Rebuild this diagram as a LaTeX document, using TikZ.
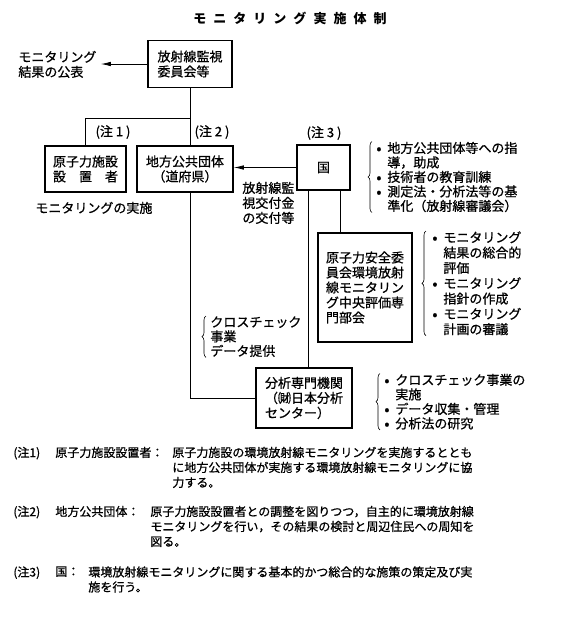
\documentclass[tikz,border=0pt]{standalone}
\usepackage{fontspec}
\setmainfont[FakeBold=0.8]{Noto Sans CJK JP}
\newfontfamily\titlefont[LetterSpace=54]{Noto Sans CJK JP}
\usetikzlibrary{arrows.meta,decorations.pathreplacing}
\newcommand\itm{\makebox[11pt][l]{\smash{\raisebox{-0.8pt}{\fontsize{15}{15}\selectfont\textbullet}}}}
\newcommand\cnt{\hspace*{11pt}}

\begin{document}
\begin{tikzpicture}[x=1pt, y=-1pt, line width=0.8pt,
  box/.style={draw, line width=1.5pt, align=center, inner sep=0pt, font=\fontsize{13}{15}\selectfont},
  txt/.style={anchor=north west, align=left, inner sep=0pt, font=\fontsize{13}{15}\selectfont},
  note/.style={anchor=north west, align=left, inner sep=0pt, font=\fontsize{12}{15}\selectfont},
  brc/.style={decorate, decoration={brace, amplitude=4pt}, line width=0.6pt},
  arr/.style={-{Latex[length=10pt, width=4.5pt]}}]
  \useasboundingbox (0,0) rectangle (581,633);
  \node[font=\titlefont\bfseries\fontsize{13}{15}\selectfont] (title) at (290,18) {モニタリング実施体制};

  % boxes
  \node[box, align=left, minimum width=84pt, minimum height=47pt] (kanshi) at (190,64) {放射線監視\\委員会等};
  \node[box, minimum width=81pt, minimum height=46pt] (setchi) at (85.5,169) {原子力施設\\設\hspace{1em}置\hspace{1em}者};
  \node[box, minimum width=96pt, minimum height=46pt] (chiho) at (185,169) {地方公共団体\\（道府県）};
  \node[box, minimum width=53pt, minimum height=45pt] (kuni) at (323.5,167.5) {国};
  \node[box, align=left, minimum width=94pt, minimum height=109pt] (anzen) at (365,287.5) {原子力安全委\\員会環境放射\\線モニタリン\\グ中央評価専\\門部会};
  \node[box, align=left, minimum width=96pt, minimum height=60pt] (bunseki) at (304,398) {分析専門機関\\（㈶日本分析\\センター）};

  % labels
  \node[txt] (koho) at (18,50.5) {モニタリング\\結果の公表};
  \node[font=\fontsize{13}{15}\selectfont] (chu1) at (113,132) {(注 1 )};
  \node[font=\fontsize{13}{15}\selectfont] (chu2) at (212,132) {(注 2 )};
  \node[font=\fontsize{13}{15}\selectfont] (chu3) at (324,133) {(注 3 )};
  \node[txt] (jisshi) at (35,201.5) {モニタリングの実施};
  \node[txt] (kofu) at (242,181.5) {放射線監\\視交付金\\の交付等};
  \node[txt, font=\fontsize{13}{14.5}\selectfont] (kunilist) at (376,141.5) {\itm 地方公共団体等への指\\\cnt 導，助成\\\itm 技術者の教育訓練\\\itm 測定法・分析法等の基\\\cnt 準化（放射線審議会）};
  \node[txt, font=\fontsize{13}{15.3}\selectfont] (anzenlist) at (432,231) {\itm モニタリング\\\cnt 結果の総合的\\\cnt 評価\\\itm モニタリング\\\cnt 指針の作成\\\itm モニタリング\\\cnt 計画の審議};
  \node[txt, font=\fontsize{13}{14.5}\selectfont] (cross) at (210,316) {クロスチェック\\事業\\データ提供};
  \node[txt, font=\fontsize{13}{14.5}\selectfont] (bunlist) at (384,373.5) {\itm クロスチェック事業の\\\cnt 実施\\\itm データ収集・管理\\\itm 分析法の研究};

  % connectors
  \coordinate (bunki) at ([yshift=-30pt]kanshi.south);
  \draw (kanshi.south) -- (kanshi.south |- chiho.north);
  \draw (bunki) -| (setchi.north);
  \draw[arr] (kanshi.west) -- ([xshift=4pt]koho.east |- kanshi.west);
  \draw[arr] (kuni.west) -- (kuni.west -| chiho.east);
  \draw ([xshift=16.5pt]kuni.south) -- ([xshift=16.5pt]kuni.south |- anzen.north);
  \draw ([xshift=-15.5pt]kuni.south) -- ([xshift=-15.5pt]kuni.south |- bunseki.north);
  \draw (kanshi.south |- chiho.south) |- (bunseki.west);

  % braces
  \draw[brc] ([xshift=-4pt]kunilist.south west) -- ([xshift=-4pt]kunilist.north west);
  \draw[brc] ([xshift=-6pt]anzenlist.south west) -- ([xshift=-6pt]anzenlist.north west);
  \draw[brc] ([xshift=-4pt]cross.south west) -- ([xshift=-4pt]cross.north west);
  \draw[brc] ([xshift=-4pt]bunlist.south west) -- ([xshift=-4pt]bunlist.north west);

  % notes
  \node[note] (n1) at (13,446.5) {(注1)};
  \node[note] (n1a) at (55,446.5) {原子力施設設置者：};
  \node[note] (n1b) at (172,446.5) {原子力施設の環境放射線モニタリングを実施するととも\\に地方公共団体が実施する環境放射線モニタリングに協\\力する。};
  \node[note] (n2) at (13,505.5) {(注2)};
  \node[note] (n2a) at (55,505.5) {地方公共団体：};
  \node[note] (n2b) at (150,505.5) {原子力施設設置者との調整を図りつつ，自主的に環境放射線\\モニタリングを行い，その結果の検討と周辺住民への周知を\\図る。};
  \node[note] (n3) at (13,566) {(注3)};
  \node[note] (n3a) at (55,566) {国：};
  \node[note] (n3b) at (88,566) {環境放射線モニタリングに関する基本的かつ総合的な施策の策定及び実\\施を行う。};
\end{tikzpicture}
\end{document}
